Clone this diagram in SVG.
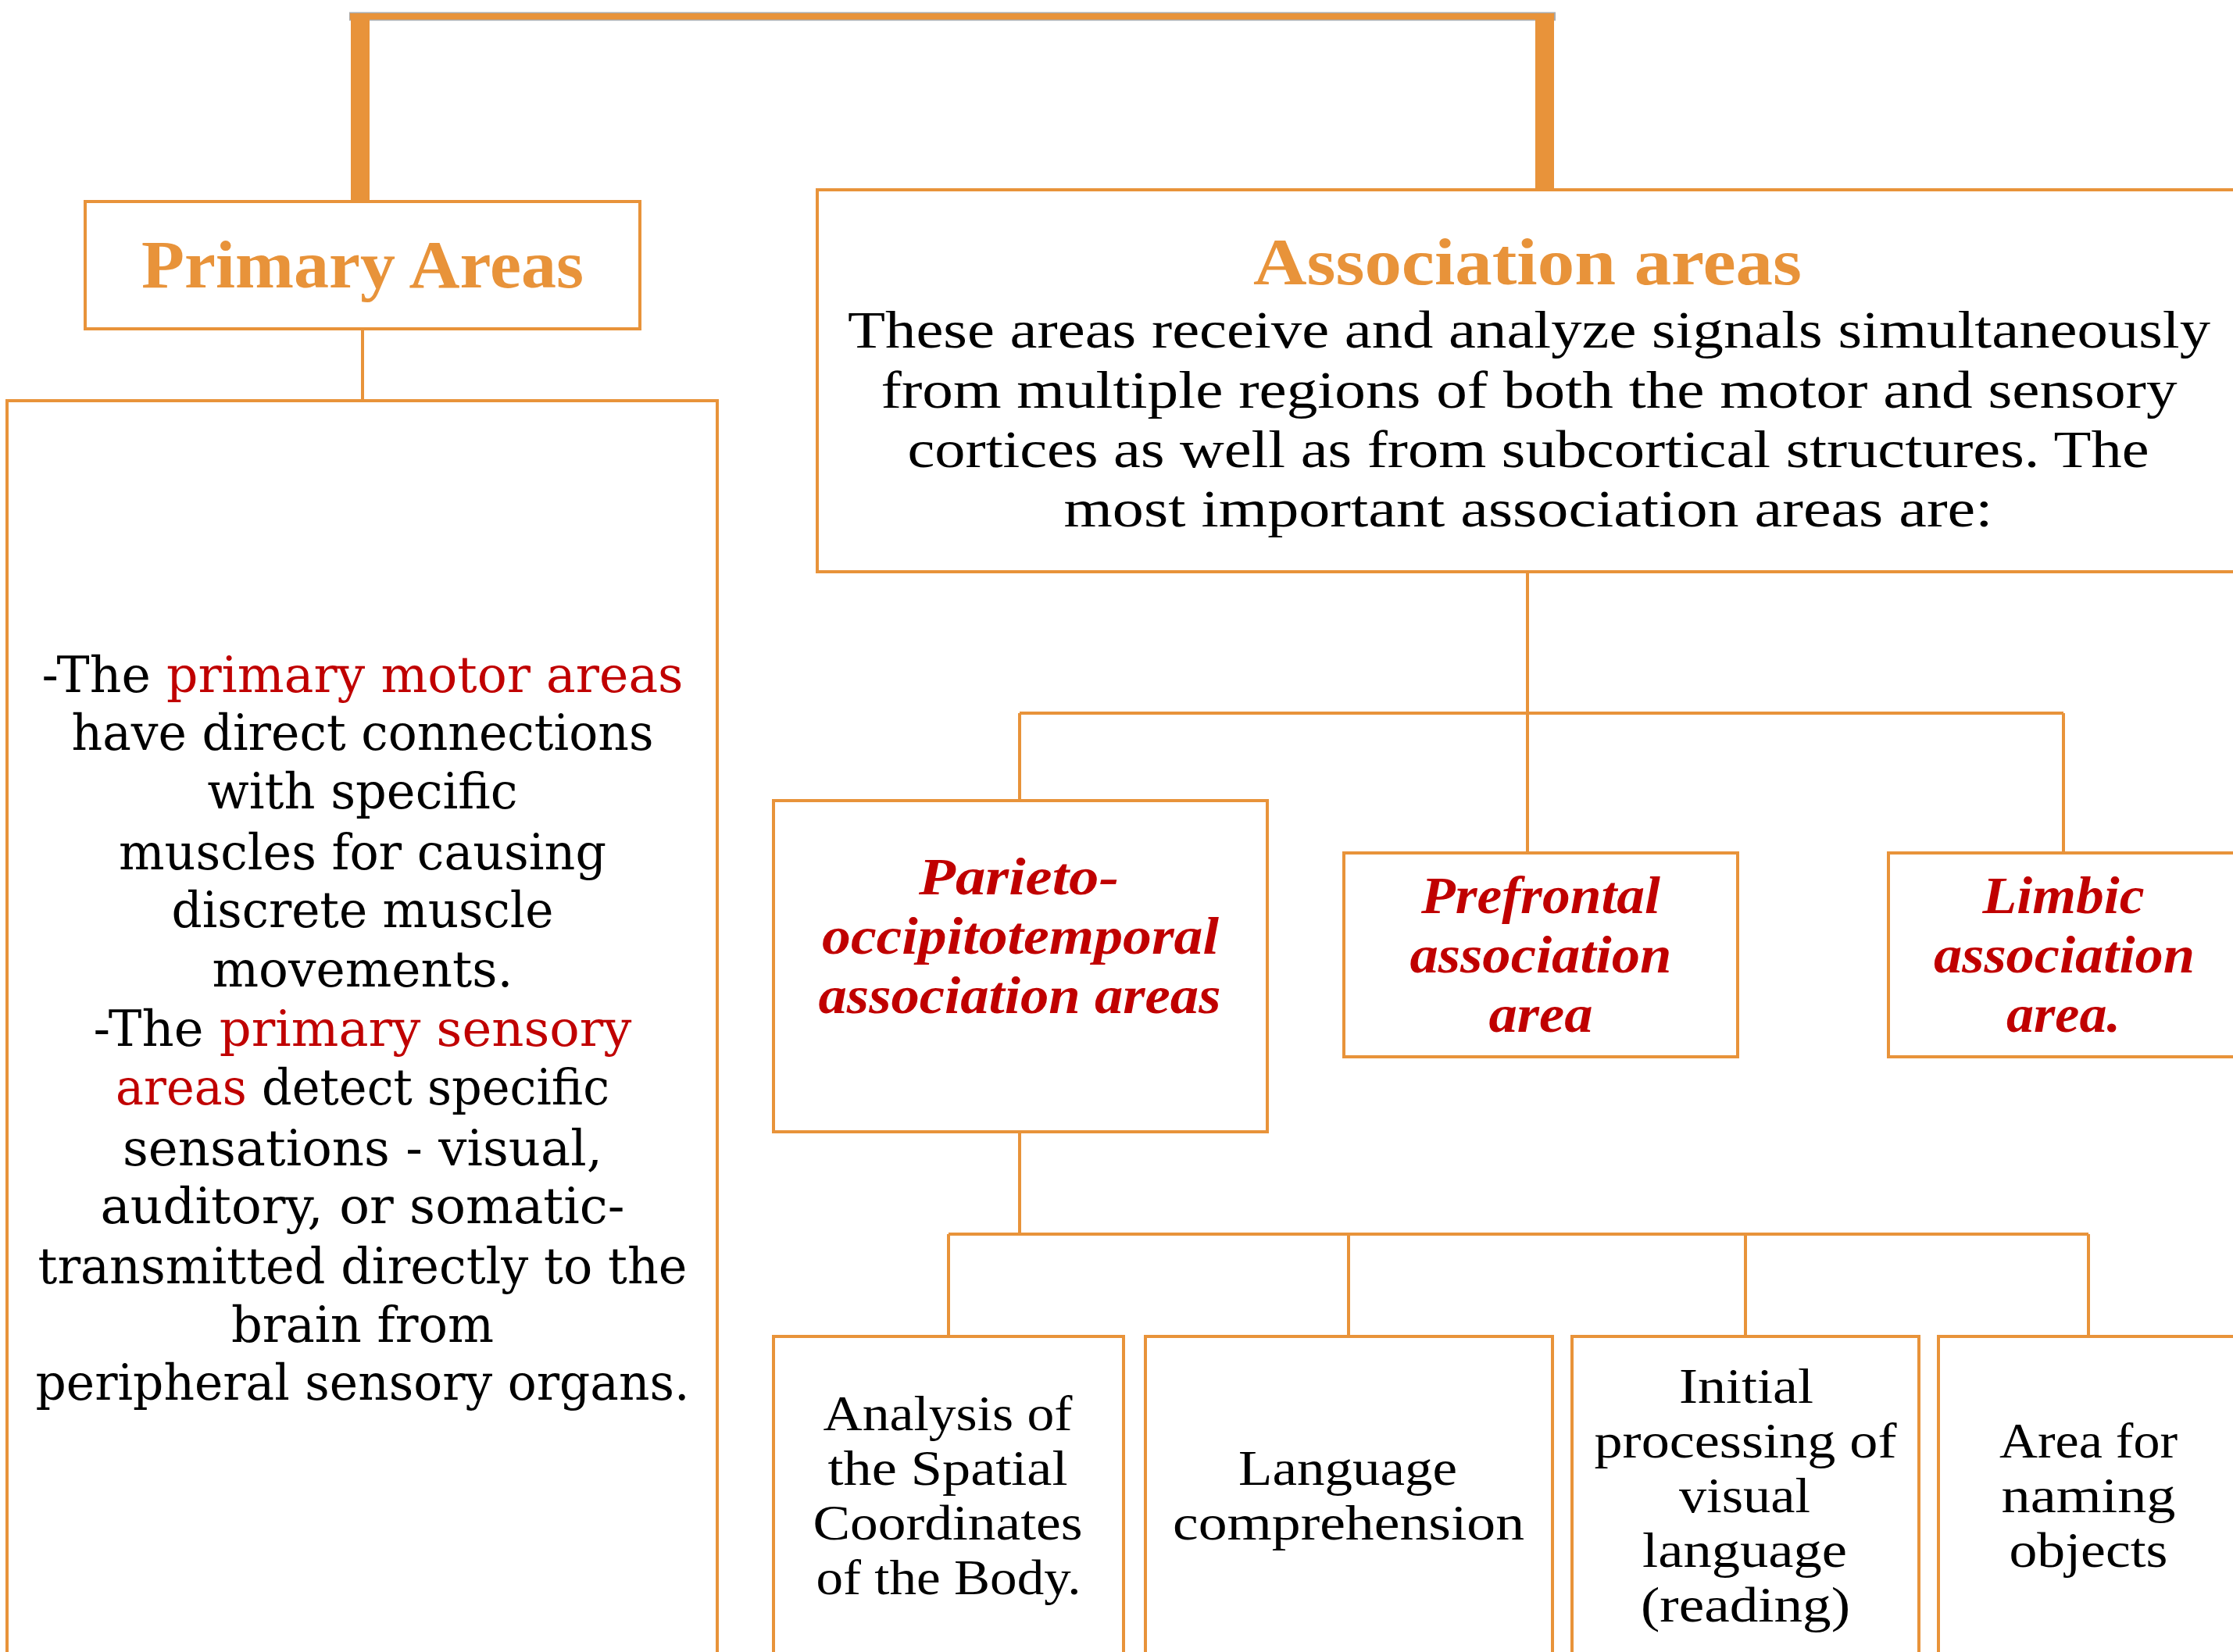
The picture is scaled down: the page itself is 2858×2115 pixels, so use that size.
<svg xmlns="http://www.w3.org/2000/svg" width="2858" height="2115" viewBox="0 0 2858 2115">
<style>
.box{fill:#fff;stroke:#E8933A;stroke-width:4}
.ln{stroke:#E8933A;stroke-width:4;fill:none}
.ttl{font-family:"Liberation Serif",serif;font-weight:bold;fill:#E8933A;text-anchor:middle}
.body{font-family:"Liberation Serif",serif;fill:#000;text-anchor:middle;font-size:68px}
.wide{font-family:"DejaVu Serif",serif;fill:#000;text-anchor:middle;font-size:63px}
.red{fill:#C00000}
.rit{font-family:"Liberation Serif",serif;font-weight:bold;font-style:italic;fill:#C00000;text-anchor:middle;font-size:68px}
.sm{font-family:"Liberation Serif",serif;fill:#000;text-anchor:middle;font-size:64px}
</style>
<rect width="2858" height="2115" fill="#fff"/>
<g id="connectors">
<rect x="447" y="15.5" width="1544" height="11" fill="#aaaaaa"/>
<rect x="448" y="17" width="1541" height="8" fill="#E8933A"/>
<rect x="449" y="17" width="24" height="242" fill="#E8933A"/>
<rect x="1965" y="17" width="24" height="235" fill="#E8933A"/>
<path class="ln" d="M464 423V513"/>
<path class="ln" d="M1955 733V913M1305 913H2641M1305 913V1025M1955 913V1092M2641 913V1092"/>
<path class="ln" d="M1305 1449V1580M1214 1580H2673M1214 1580V1711M1726 1580V1711M2234 1580V1711M2673 1580V1711"/>
</g>
<g id="primary-areas">
<rect class="box" x="109" y="258" width="710" height="163"/>
<text class="ttl" x="464" y="368" font-size="86" textLength="566" lengthAdjust="spacingAndGlyphs">Primary Areas</text>
</g>
<g id="primary-text">
<rect class="box" x="9" y="513" width="909" height="1700"/>
<text class="wide" x="464" y="886" textLength="821" lengthAdjust="spacingAndGlyphs">-The <tspan class="red">primary motor areas</tspan></text>
<text class="wide" x="464" y="960" textLength="745" lengthAdjust="spacingAndGlyphs">have direct connections</text>
<text class="wide" x="464" y="1035" textLength="397" lengthAdjust="spacingAndGlyphs">with specific</text>
<text class="wide" x="464" y="1113" textLength="624" lengthAdjust="spacingAndGlyphs">muscles for causing</text>
<text class="wide" x="464" y="1187" textLength="489" lengthAdjust="spacingAndGlyphs">discrete muscle</text>
<text class="wide" x="464" y="1263" textLength="385" lengthAdjust="spacingAndGlyphs">movements.</text>
<text class="wide" x="464" y="1339" textLength="689" lengthAdjust="spacingAndGlyphs">-The <tspan class="red">primary sensory</tspan></text>
<text class="wide" x="464" y="1414" textLength="632" lengthAdjust="spacingAndGlyphs"><tspan class="red">areas</tspan> detect specific</text>
<text class="wide" x="464" y="1492" textLength="614" lengthAdjust="spacingAndGlyphs">sensations - visual,</text>
<text class="wide" x="464" y="1566" textLength="671" lengthAdjust="spacingAndGlyphs">auditory, or somatic-</text>
<text class="wide" x="464" y="1643" textLength="831" lengthAdjust="spacingAndGlyphs">transmitted directly to the</text>
<text class="wide" x="464" y="1718" textLength="336" lengthAdjust="spacingAndGlyphs">brain from</text>
<text class="wide" x="464" y="1792" textLength="837" lengthAdjust="spacingAndGlyphs">peripheral sensory organs.</text>
</g>
<g id="association-areas">
<rect class="box" x="1046" y="243" width="1900" height="489"/>
<text class="ttl" x="1955" y="364" font-size="84" textLength="702" lengthAdjust="spacingAndGlyphs">Association areas</text>
<text class="body" x="1957" y="445" textLength="1744" lengthAdjust="spacingAndGlyphs">These areas receive and analyze signals simultaneously</text>
<text class="body" x="1957" y="522" textLength="1659" lengthAdjust="spacingAndGlyphs">from multiple regions of both the motor and sensory</text>
<text class="body" x="1956" y="598" textLength="1589" lengthAdjust="spacingAndGlyphs">cortices as well as from subcortical structures. The</text>
<text class="body" x="1956" y="674" textLength="1189" lengthAdjust="spacingAndGlyphs">most important association areas are:</text>
</g>
<g id="parieto">
<rect class="box" x="990" y="1025" width="632" height="424"/>
<text class="rit" x="1304" y="1145" textLength="256" lengthAdjust="spacingAndGlyphs">Parieto-</text>
<text class="rit" x="1306" y="1221" textLength="508" lengthAdjust="spacingAndGlyphs">occipitotemporal</text>
<text class="rit" x="1305" y="1297" textLength="515" lengthAdjust="spacingAndGlyphs">association areas</text>
</g>
<g id="prefrontal">
<rect class="box" x="1720" y="1092" width="504" height="261"/>
<text class="rit" x="1972" y="1169" textLength="306" lengthAdjust="spacingAndGlyphs">Prefrontal</text>
<text class="rit" x="1972" y="1245" textLength="335" lengthAdjust="spacingAndGlyphs">association</text>
<text class="rit" x="1972" y="1321" textLength="133" lengthAdjust="spacingAndGlyphs">area</text>
</g>
<g id="limbic">
<rect class="box" x="2417" y="1092" width="600" height="261"/>
<text class="rit" x="2641" y="1169" textLength="207" lengthAdjust="spacingAndGlyphs">Limbic</text>
<text class="rit" x="2642" y="1245" textLength="334" lengthAdjust="spacingAndGlyphs">association</text>
<text class="rit" x="2641" y="1321" textLength="146" lengthAdjust="spacingAndGlyphs">area.</text>
</g>
<g id="spatial">
<rect class="box" x="990" y="1711" width="448" height="500"/>
<text class="sm" x="1213" y="1831" textLength="319" lengthAdjust="spacingAndGlyphs">Analysis of</text>
<text class="sm" x="1213" y="1901" textLength="307" lengthAdjust="spacingAndGlyphs">the Spatial</text>
<text class="sm" x="1213" y="1971" textLength="345" lengthAdjust="spacingAndGlyphs">Coordinates</text>
<text class="sm" x="1214" y="2041" textLength="339" lengthAdjust="spacingAndGlyphs">of the Body.</text>
</g>
<g id="language">
<rect class="box" x="1466" y="1711" width="521" height="500"/>
<text class="sm" x="1725" y="1901" textLength="280" lengthAdjust="spacingAndGlyphs">Language</text>
<text class="sm" x="1726" y="1971" textLength="450" lengthAdjust="spacingAndGlyphs">comprehension</text>
</g>
<g id="reading">
<rect class="box" x="2012" y="1711" width="444" height="500"/>
<text class="sm" x="2235" y="1796" textLength="172" lengthAdjust="spacingAndGlyphs">Initial</text>
<text class="sm" x="2234" y="1866" textLength="387" lengthAdjust="spacingAndGlyphs">processing of</text>
<text class="sm" x="2233" y="1936" textLength="168" lengthAdjust="spacingAndGlyphs">visual</text>
<text class="sm" x="2233" y="2006" textLength="262" lengthAdjust="spacingAndGlyphs">language</text>
<text class="sm" x="2234" y="2076" textLength="268" lengthAdjust="spacingAndGlyphs">(reading)</text>
</g>
<g id="naming">
<rect class="box" x="2481" y="1711" width="600" height="500"/>
<text class="sm" x="2673" y="1866" textLength="228" lengthAdjust="spacingAndGlyphs">Area for</text>
<text class="sm" x="2673" y="1936" textLength="223" lengthAdjust="spacingAndGlyphs">naming</text>
<text class="sm" x="2673" y="2006" textLength="203" lengthAdjust="spacingAndGlyphs">objects</text>
</g>
</svg>
